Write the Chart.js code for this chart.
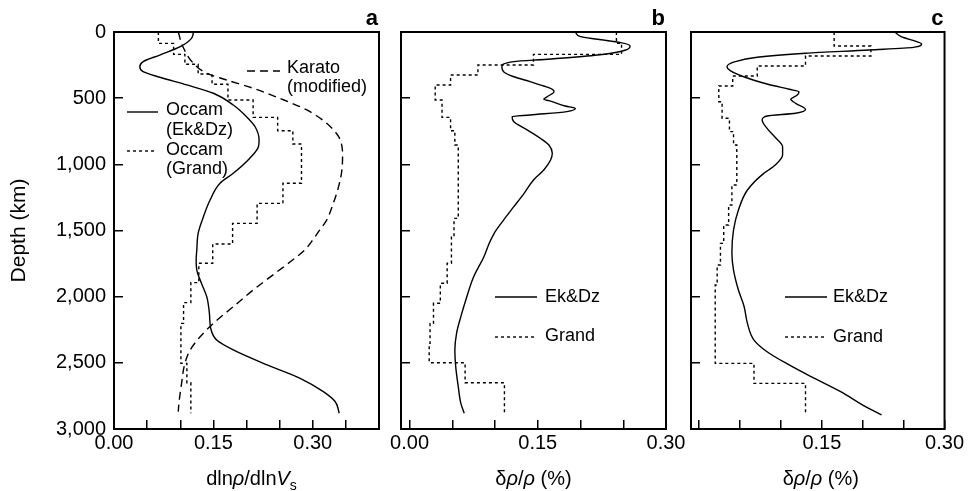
<!DOCTYPE html>
<html>
<head>
<meta charset="utf-8">
<script src="https://cdn.jsdelivr.net/npm/chart.js"></script>
<style>
  html, body { margin: 0; padding: 0; background: #fff; }
  #wrap { position: relative; width: 975px; height: 491px; }
  #wrap canvas { position: absolute; left: 0; top: 0; }
</style>
</head>
<body>
<div id="wrap">
  <canvas id="panelA" width="975" height="491"></canvas>
  <canvas id="panelB" width="975" height="491"></canvas>
  <canvas id="panelC" width="975" height="491"></canvas>
</div>
<script>
// tick values
var depthTicks = [0, 500, 1000, 1500, 2000, 2500, 3000];
var xTicksA = [0, 0.05, 0.10, 0.15, 0.20, 0.25, 0.30, 0.35, 0.40];
var xTicksBC = [0, 0.05, 0.10, 0.15, 0.20, 0.25, 0.30];

// panel a: dln(rho)/dln(Vs) versus depth (km)
var aKaratoDepth = [0, 111, 237, 312, 363, 425, 501, 589, 690, 791, 917, 1043, 1169, 1295, 1421, 1521, 1572, 1647, 1698, 1824, 1950, 2076, 2202, 2303, 2403, 2504, 2655, 2806, 2869];
var aKaratoValue = [0.097, 0.104, 0.12, 0.14, 0.17, 0.21, 0.25, 0.291, 0.321, 0.339, 0.345, 0.344, 0.339, 0.331, 0.321, 0.307, 0.300, 0.288, 0.276, 0.243, 0.21, 0.18, 0.15, 0.13, 0.115, 0.107, 0.102, 0.098, 0.097];
var aEkDzDepth = [0, 48, 111, 174, 224, 262, 300, 342, 400, 463, 552, 640, 716, 816, 867, 954, 1068, 1143, 1270, 1396, 1521, 1647, 1720, 1799, 1899, 2000, 2126, 2239, 2328, 2403, 2516, 2617, 2718, 2794, 2881];
var aEkDzValue = [0.12, 0.117, 0.10, 0.069, 0.044, 0.039, 0.044, 0.069, 0.11, 0.15, 0.18, 0.20, 0.213, 0.219, 0.218, 0.205, 0.18, 0.16, 0.145, 0.135, 0.127, 0.125, 0.124, 0.125, 0.132, 0.14, 0.144, 0.146, 0.155, 0.18, 0.231, 0.281, 0.316, 0.334, 0.34];
// step profiles: layer boundaries and one value per layer
var aGrandBounds = [0, 86, 169, 244, 317, 395, 514, 645, 746, 846, 1143, 1295, 1446, 1602, 1748, 1894, 2045, 2202, 2504, 2650, 2881];
var aGrandValue = [0.067, 0.09, 0.107, 0.127, 0.148, 0.172, 0.21, 0.247, 0.27, 0.283, 0.255, 0.216, 0.179, 0.149, 0.128, 0.116, 0.105, 0.101, 0.11, 0.116];

// panel b: density anomaly, Ek&Dz and Grand
var bEkDzDepth = [0, 35, 55, 80, 106, 136, 174, 206, 224, 262, 300, 338, 375, 408, 433, 451, 489, 509, 519, 559, 577, 602, 627, 640, 678, 741, 803, 854, 917, 967, 1043, 1118, 1219, 1320, 1421, 1521, 1600, 1698, 1849, 2000, 2151, 2277, 2403, 2529, 2680, 2806, 2881];
var bEkDzValue = [0.194, 0.2, 0.22, 0.247, 0.258, 0.253, 0.22, 0.161, 0.122, 0.108, 0.11, 0.122, 0.141, 0.157, 0.167, 0.169, 0.161, 0.157, 0.163, 0.182, 0.194, 0.184, 0.141, 0.12, 0.122, 0.138, 0.153, 0.163, 0.167, 0.165, 0.157, 0.145, 0.134, 0.122, 0.11, 0.099, 0.093, 0.087, 0.075, 0.067, 0.06, 0.055, 0.053, 0.054, 0.057, 0.06, 0.064];
var bGrandBounds = [0, 86, 169, 249, 325, 400, 514, 645, 746, 854, 1408, 1550, 1748, 1899, 2050, 2202, 2353, 2499, 2650, 2881];
var bGrandValue = [0.242, 0.248, 0.145, 0.08, 0.048, 0.03, 0.038, 0.048, 0.053, 0.057, 0.052, 0.049, 0.044, 0.036, 0.028, 0.024, 0.023, 0.065, 0.111];

// panel c
var cEkDzDepth = [0, 35, 73, 91, 116, 136, 161, 191, 224, 262, 292, 342, 393, 433, 451, 476, 509, 539, 584, 614, 635, 665, 728, 803, 867, 930, 1005, 1043, 1068, 1194, 1345, 1496, 1670, 1799, 1950, 2076, 2202, 2328, 2416, 2516, 2605, 2718, 2819, 2894];
var cEkDzValue = [0.239, 0.247, 0.266, 0.272, 0.262, 0.208, 0.13, 0.071, 0.044, 0.034, 0.038, 0.056, 0.083, 0.11, 0.122, 0.12, 0.112, 0.118, 0.13, 0.118, 0.083, 0.077, 0.083, 0.094, 0.102, 0.102, 0.093, 0.085, 0.079, 0.059, 0.048, 0.042, 0.040, 0.042, 0.048, 0.055, 0.059, 0.067, 0.083, 0.11, 0.137, 0.173, 0.2, 0.223];
var cGrandBounds = [0, 106, 181, 257, 333, 408, 527, 652, 753, 854, 1156, 1307, 1458, 1597, 1761, 1912, 2504, 2655, 2894];
var cGrandValue = [0.165, 0.21, 0.13, 0.071, 0.041, 0.024, 0.028, 0.037, 0.042, 0.046, 0.040, 0.036, 0.030, 0.026, 0.022, 0.0196, 0.067, 0.13];

var FONT = '"Liberation Sans", Arial, Helvetica, sans-serif';
var SOLID = [], DASHED = [8, 5], DOTTED = [3, 3];
Chart.defaults.font.family = FONT;
Chart.defaults.color = "#000";

function curve(values, depths) {
    return values.map(function (v, i) { return { x: v, y: depths[i] }; });
}
function steps(values, bounds) {
    var pts = values.map(function (v, i) { return { x: v, y: bounds[i] }; });
    pts.push({ x: values[values.length - 1], y: bounds[bounds.length - 1] });
    return pts;
}

// frame, panel letter, legend and rich x-axis title
var decor = {
    id: "decor",
    afterDraw: function (chart, args, o) {
        var ctx = chart.ctx, a = chart.chartArea;
        ctx.save();
        ctx.strokeStyle = "#000";
        ctx.fillStyle = "#000";
        ctx.lineWidth = 2;
        ctx.setLineDash([]);
        ctx.strokeRect(a.left, a.top, a.right - a.left, a.bottom - a.top);

        ctx.font = "bold 22px " + FONT;
        ctx.textAlign = "right";
        ctx.textBaseline = "alphabetic";
        ctx.fillText(o.letter, a.right - 1, 25);

        ctx.lineWidth = 1.4;
        ctx.textAlign = "left";
        ctx.textBaseline = "middle";
        ctx.font = "18px " + FONT;
        o.legend.forEach(function (it) {
            ctx.setLineDash(it.dash);
            ctx.beginPath();
            ctx.moveTo(it.x0, it.y);
            ctx.lineTo(it.x1, it.y);
            ctx.stroke();
            ctx.setLineDash([]);
            it.text.forEach(function (t, i) { ctx.fillText(t, it.tx, it.ty + i * 19.5); });
        });

        // x title built from segments (italic / subscript parts)
        var segs = o.title.map(function (s) {
            var f = (s.i ? "italic " : "") + (s.sub ? "14px " : "20px ") + FONT;
            ctx.font = f;
            return { t: s.t, f: f, w: ctx.measureText(s.t).width, sub: s.sub };
        });
        var total = segs.reduce(function (p, s) { return p + s.w; }, 0);
        var x = (a.left + a.right) / 2 + o.titleShift - total / 2;
        ctx.textBaseline = "alphabetic";
        segs.forEach(function (s) {
            ctx.font = s.f;
            ctx.fillText(s.t, x, s.sub ? 490 : 485);
            x += s.w;
        });
        ctx.restore();
    }
};

function makePanel(id, cfg) {
    var tickGrid = { drawOnChartArea: false, drawTicks: true, tickLength: -9, color: "#000", lineWidth: 1.5 };
    return new Chart(document.getElementById(id), {
        type: "line",
        data: { datasets: cfg.datasets },
        plugins: [decor],
        options: {
            responsive: false,
            animation: false,
            indexAxis: "y",
            layout: { padding: { left: cfg.padLeft, right: cfg.padRight, top: 32, bottom: 0 } },
            elements: {
                point: { radius: 0 },
                line: { borderWidth: 1.4, borderColor: "#000", fill: false, cubicInterpolationMode: "monotone" }
            },
            plugins: {
                legend: { display: false },
                tooltip: { enabled: false },
                decor: cfg.decor
            },
            scales: {
                x: {
                    type: "linear",
                    min: cfg.xMin,
                    max: cfg.xMax,
                    afterBuildTicks: function (s) { s.ticks = cfg.xTicks.map(function (v) { return { value: v }; }); },
                    afterFit: function (s) { s.height = 62; },
                    border: { display: false },
                    grid: tickGrid,
                    ticks: {
                        autoSkip: false, maxRotation: 0, padding: 11,
                        font: { size: 20 },
                        callback: function (v) {
                            var k = Math.round(v * 100);
                            if (k % 15 !== 0) return "";
                            if (cfg.hideZero && k === 0) return "";
                            return v.toFixed(2);
                        }
                    }
                },
                y: {
                    type: "linear",
                    reverse: true,
                    min: 0,
                    max: 3000,
                    afterBuildTicks: function (s) { s.ticks = depthTicks.map(function (v) { return { value: v }; }); },
                    afterFit: function (s) { s.width = cfg.yWidth; },
                    border: { display: false },
                    grid: tickGrid,
                    ticks: {
                        autoSkip: false, padding: 17,
                        font: { size: 20 },
                        callback: function (v) { return cfg.yLabels ? v.toLocaleString("en-US") : ""; }
                    },
                    title: {
                        display: cfg.yLabels,
                        text: "Depth (km)",
                        font: { size: 21 },
                        padding: { top: 7, bottom: 0 }
                    }
                }
            }
        }
    });
}

makePanel("panelA", {
    padLeft: 0, padRight: 596, yWidth: 114, yLabels: true,
    xMin: 0, xMax: 0.40, xTicks: xTicksA, hideZero: false,
    datasets: [
        { label: "Karato (modified)", data: curve(aKaratoValue, aKaratoDepth), borderDash: DASHED },
        { label: "Occam (Ek&Dz)", data: curve(aEkDzValue, aEkDzDepth), borderDash: SOLID },
        { label: "Occam (Grand)", data: steps(aGrandValue, aGrandBounds), borderDash: DOTTED, stepped: "after" }
    ],
    decor: {
        letter: "a",
        titleShift: 5,
        title: [{ t: "dln" }, { t: "ρ", i: true }, { t: "/dln" }, { t: "V", i: true }, { t: "s", sub: true }],
        legend: [
            { x0: 247, x1: 280, y: 71, dash: DASHED, tx: 287, ty: 68, text: ["Karato", "(modified)"] },
            { x0: 127, x1: 158, y: 112, dash: SOLID, tx: 166, ty: 110.5, text: ["Occam", "(Ek&Dz)"] },
            { x0: 127, x1: 157, y: 151, dash: DOTTED, tx: 166, ty: 150, text: ["Occam", "(Grand)"] }
        ]
    }
});

makePanel("panelB", {
    padLeft: 390, padRight: 309, yWidth: 11, yLabels: false,
    xMin: -0.01, xMax: 0.30, xTicks: xTicksBC, hideZero: false,
    datasets: [
        { label: "Ek&Dz", data: curve(bEkDzValue, bEkDzDepth), borderDash: SOLID },
        { label: "Grand", data: steps(bGrandValue, bGrandBounds), borderDash: DOTTED, stepped: "after" }
    ],
    decor: {
        letter: "b",
        titleShift: 0,
        title: [{ t: "δ" }, { t: "ρ", i: true }, { t: "/" }, { t: "ρ", i: true }, { t: " (%)" }],
        legend: [
            { x0: 495, x1: 537, y: 297, dash: SOLID, tx: 545, ty: 297, text: ["Ek&Dz"] },
            { x0: 495, x1: 537, y: 337, dash: DOTTED, tx: 545, ty: 336, text: ["Grand"] }
        ]
    }
});

makePanel("panelC", {
    padLeft: 680, padRight: 19, yWidth: 11, yLabels: false,
    xMin: -0.01, xMax: 0.30, xTicks: xTicksBC, hideZero: true,
    datasets: [
        { label: "Ek&Dz", data: curve(cEkDzValue, cEkDzDepth), borderDash: SOLID },
        { label: "Grand", data: steps(cGrandValue, cGrandBounds), borderDash: DOTTED, stepped: "after" }
    ],
    decor: {
        letter: "c",
        titleShift: 3,
        title: [{ t: "δ" }, { t: "ρ", i: true }, { t: "/" }, { t: "ρ", i: true }, { t: " (%)" }],
        legend: [
            { x0: 785, x1: 827, y: 297, dash: SOLID, tx: 833, ty: 297, text: ["Ek&Dz"] },
            { x0: 785, x1: 827, y: 337, dash: DOTTED, tx: 833, ty: 337, text: ["Grand"] }
        ]
    }
});
</script>
</body>
</html>
